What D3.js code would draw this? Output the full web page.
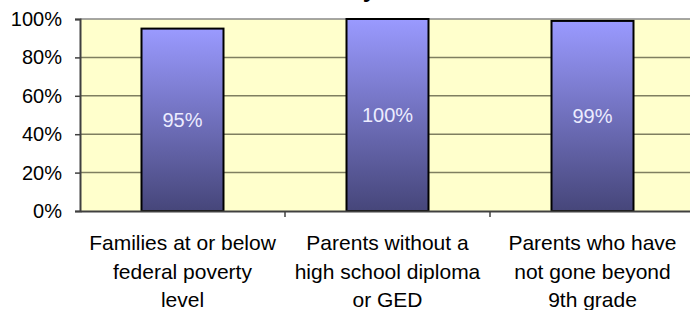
<!DOCTYPE html>
<html>
<head>
<meta charset="utf-8">
<script src="https://cdn.jsdelivr.net/npm/d3@7"></script>
<style>
  body { margin: 0; background: #fff; }
  svg { display: block; font-family: "Liberation Sans", Arial, sans-serif; }
</style>
</head>
<body>
<svg width="690" height="310"></svg>
<script>
// chart data
const categories = [
    ["Families at or below", "federal poverty", "level"],
    ["Parents without a", "high school diploma", "or GED"],
    ["Parents who have", "not gone beyond", "9th grade"]
];
const values = [0.95, 1.00, 0.99];
const yTicks = [0, 0.2, 0.4, 0.6, 0.8, 1.0];

const svg = d3.select("svg");
const plotLeft = 80, plotRight = 695, plotTop = 19, plotBottom = 211;

const x = d3.scaleBand()
    .domain(d3.range(categories.length))
    .range([plotLeft, plotRight]);

const y = d3.scaleLinear()
    .domain([0, 1])
    .range([plotBottom, plotTop]);

// gradient for bars
const grad = svg.append("defs").append("linearGradient")
    .attr("id", "barGrad")
    .attr("x1", 0).attr("y1", 0).attr("x2", 0).attr("y2", 1);
grad.append("stop").attr("offset", "0%").attr("stop-color", "#9a9aff");
grad.append("stop").attr("offset", "100%").attr("stop-color", "#46467a");

// plot background
svg.append("rect")
    .attr("x", plotLeft).attr("y", plotTop)
    .attr("width", plotRight - plotLeft).attr("height", plotBottom - plotTop)
    .attr("fill", "#ffffcc");

// gridlines
svg.selectAll("line.grid")
    .data(yTicks.slice(1, -1))
    .enter().append("line")
    .attr("class", "grid")
    .attr("x1", plotLeft).attr("x2", plotRight)
    .attr("y1", d => y(d)).attr("y2", d => y(d))
    .attr("stroke", "#7f7f60")
    .attr("stroke-width", 1.5);

// top border
svg.append("line")
    .attr("x1", plotLeft).attr("x2", plotRight)
    .attr("y1", plotTop).attr("y2", plotTop)
    .attr("stroke", "#888")
    .attr("stroke-width", 1.5);

// bars
const bw = x.bandwidth() * 0.4;
svg.selectAll("rect.bar")
    .data(values)
    .enter().append("rect")
    .attr("class", "bar")
    .attr("x", (d, i) => x(i) + (x.bandwidth() - bw) / 2)
    .attr("y", d => y(d))
    .attr("width", bw)
    .attr("height", d => plotBottom - y(d))
    .attr("fill", "url(#barGrad)")
    .attr("stroke", "#000")
    .attr("stroke-width", 2);

// value labels
svg.selectAll("text.val")
    .data(values)
    .enter().append("text")
    .attr("class", "val")
    .attr("x", (d, i) => x(i) + x.bandwidth() / 2)
    .attr("y", d => (y(d) + plotBottom) / 2 + 7)
    .attr("text-anchor", "middle")
    .attr("font-size", 20)
    .attr("fill", "#ececff")
    .text(d => d3.format(".0%")(d));

// y axis
const yAxis = svg.append("g")
    .attr("transform", `translate(${plotLeft},0)`)
    .call(d3.axisLeft(y).tickValues(yTicks).tickFormat(d3.format(".0%")).tickSize(5).tickPadding(13));
yAxis.select(".domain").attr("stroke", "#404040").attr("stroke-width", 2);
yAxis.selectAll(".tick line").attr("stroke", "#404040").attr("stroke-width", 1.5);
yAxis.selectAll(".tick text").attr("font-size", 20).attr("fill", "#000")
    .attr("font-family", "Liberation Sans, Arial, sans-serif");

// x axis
const xAxis = svg.append("g")
    .attr("transform", `translate(0,${plotBottom})`)
    .call(d3.axisBottom(x).tickSize(0).tickFormat(""));
xAxis.select(".domain").attr("stroke", "#404040").attr("stroke-width", 2);

// ticks at category boundaries
svg.selectAll("line.xtick")
    .data(d3.range(1, categories.length))
    .enter().append("line")
    .attr("class", "xtick")
    .attr("x1", i => x(i)).attr("x2", i => x(i))
    .attr("y1", plotBottom).attr("y2", plotBottom + 6)
    .attr("stroke", "#404040")
    .attr("stroke-width", 1.5);

// category labels
svg.selectAll("text.cat")
    .data(categories)
    .enter().append("text")
    .attr("class", "cat")
    .attr("text-anchor", "middle")
    .attr("font-size", 21)
    .attr("fill", "#000")
    .each(function(lines, i) {
        d3.select(this).selectAll("tspan")
            .data(lines)
            .enter().append("tspan")
            .attr("x", x(i) + x.bandwidth() / 2)
            .attr("y", (l, j) => plotBottom + 39 + j * 28.5)
            .text(l => l);
    });

// title (cut off at the top, only a descender shows)
svg.append("text")
    .attr("x", 376)
    .attr("y", -3)
    .attr("text-anchor", "end")
    .attr("font-size", 24)
    .attr("font-weight", "bold")
    .text("Family");
</script>
</body>
</html>
